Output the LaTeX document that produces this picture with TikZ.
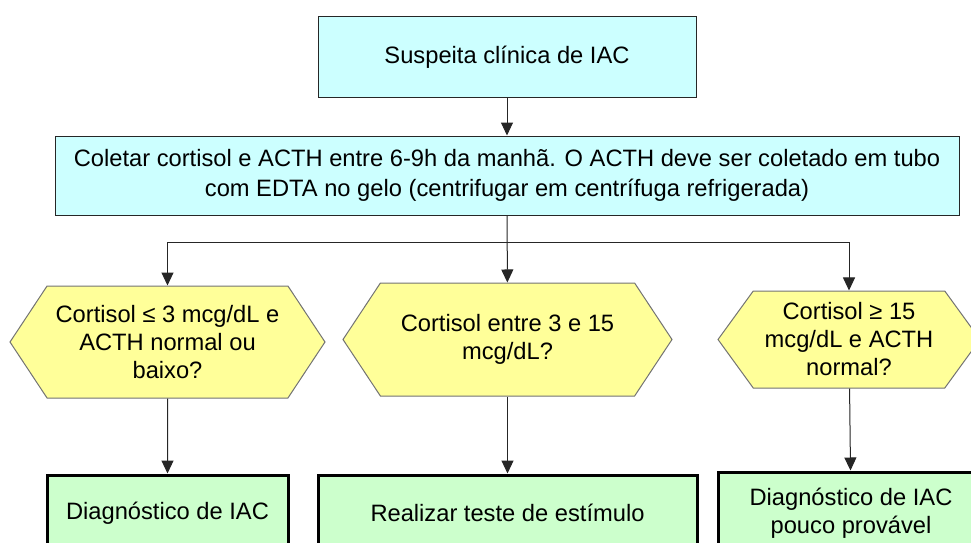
\documentclass[tikz,border=0pt]{standalone}
\usepackage{fontspec}
\setmainfont{Liberation Sans}
\usetikzlibrary{shapes.symbols,arrows.meta}

\definecolor{ciano}{HTML}{CCFFFF}
\definecolor{amarelo}{HTML}{FFFF99}
\definecolor{verde}{HTML}{CCFFCC}

\tikzset{
    caixa/.style={draw=black!85, line width=1pt, fill=ciano, align=center,
        font=\fontsize{23.7}{30}\selectfont, inner sep=0pt},
    pergunta/.style={signal, signal to=west and east, draw=black!55, line width=1pt,
        fill=amarelo, align=center, font=\fontsize{23.7}{28}\selectfont, inner sep=0pt},
    resultado/.style={draw=black, line width=3pt, fill=verde, align=center,
        font=\fontsize{23.7}{28}\selectfont, inner sep=0pt},
    linha/.style={draw=black!85, line width=1pt},
    seta/.style={linha, -{Triangle[length=13pt,width=12pt]}}
}

\begin{document}
\begin{tikzpicture}[x=1pt,y=-1pt]
    \useasboundingbox (0,0) rectangle (971,543);
    \clip (0,0) rectangle (971,543);

    \node[caixa, minimum width=378pt, minimum height=80pt] (suspeita) at (507,57)
        {Suspeita clínica de IAC};
    \node[caixa, minimum width=904pt, minimum height=79pt] (coleta) at (507,175.5)
        {Coletar cortisol e ACTH entre 6-9h da manhã. O ACTH deve ser coletado em tubo\\
         com EDTA no gelo (centrifugar em centrífuga refrigerada)};

    \node[pergunta, signal pointer angle=113, minimum width=315pt, minimum height=112pt] (baixo) at (167.5,342)
        {Cortisol ≤ 3 mcg/dL e\\ACTH normal ou\\baixo?};
    \node[pergunta, signal pointer angle=113, minimum width=329pt, minimum height=113pt] (meio) at (507.5,339.5)
        {Cortisol entre 3 e 15\\mcg/dL?};
    \node[pergunta, signal pointer angle=108, minimum width=262pt, minimum height=97pt] (alto) at (849,339.5)
        {Cortisol ≥ 15\\mcg/dL e ACTH\\normal?};

    \node[resultado, minimum width=241pt, minimum height=76pt] (diag) at (167.5,513)
        {Diagnóstico de IAC};
    \node[resultado, minimum width=379pt, minimum height=76pt] (teste) at (507.5,513)
        {Realizar teste de estímulo};
    \node[resultado, minimum width=266pt, minimum height=82pt] (improv) at (851,513)
        {Diagnóstico de IAC\\pouco provável};

    \coordinate (ramo) at (507,242);

    \draw[seta] (suspeita) -- (coleta);
    \draw[seta] (coleta) -- (meio);
    \draw[seta] (ramo) -| (baixo);
    \draw[seta] (ramo) -| (alto);
    \draw[seta] (baixo) -- (diag);
    \draw[seta] (meio) -- (teste);
    \draw[seta] (alto) -- (improv);
\end{tikzpicture}
\end{document}
